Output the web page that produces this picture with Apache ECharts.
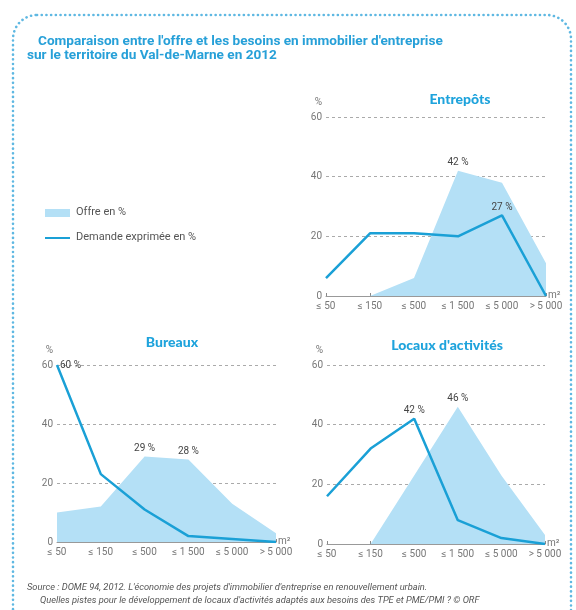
<!DOCTYPE html>
<html><head><meta charset="utf-8">
<script src="https://cdn.jsdelivr.net/npm/echarts@6/dist/echarts.min.js"></script>
<style>html,body{margin:0;padding:0;background:#fff}#c{width:576px;height:610px}</style>
</head><body><div id="c"></div>
<script>
const categories = ['≤ 50', '≤ 150', '≤ 500', '≤ 1 500', '≤ 5 000', '> 5 000'];
const yTicks = [0, 20, 40, 60];
const entrepotsOffre = [0, 0, 6, 42, 38, 11];
const entrepotsDemande = [6, 21, 21, 20, 27, 0];
const bureauxOffre = [10, 12, 29, 28, 13, 3];
const bureauxDemande = [60, 23, 11, 2, 1, 0];
const locauxOffre = [0, 0, 23, 46, 23, 3];
const locauxDemande = [16, 32, 42, 8, 2, 0];
// indices of labelled points
const entrepotsOffreLabels = [3];
const entrepotsDemandeLabels = [4];
const bureauxOffreLabels = [2, 3];
const bureauxDemandeLabels = [0];
const locauxOffreLabels = [3];
const locauxDemandeLabels = [2];

const BLUE = '#1aa0d6', AREA = '#b4e0f6', GREY = '#777';
const NARROW = '"Liberation Sans Narrow", "Roboto", sans-serif';

const grids = [
  {left: 326, top: 117, width: 220, height: 179},
  {left: 57, top: 365, width: 219, height: 177},
  {left: 327, top: 365, width: 218, height: 179}
];
function xAxis(i) {
  return {gridIndex: i, type: 'category', data: categories, boundaryGap: false,
    axisLine: {lineStyle: {color: '#999', width: 1}},
    axisTick: {inside: true, length: 3, lineStyle: {color: '#888'}},
    axisLabel: {color: GREY, fontSize: 10, fontFamily: NARROW, margin: 5, interval: 0},
    name: 'm²', nameLocation: 'end', nameGap: 2,
    nameTextStyle: {color: GREY, fontSize: 10, fontFamily: NARROW, verticalAlign: 'bottom', padding: [0, 0, -4, 0]}};
}
function yAxis(i) {
  return {gridIndex: i, type: 'value', min: yTicks[0], max: yTicks[yTicks.length - 1], interval: 20,
    axisLine: {show: false}, axisTick: {show: false},
    axisLabel: {color: GREY, fontSize: 10, fontFamily: NARROW, margin: 4},
    splitLine: {lineStyle: {color: '#aaa', type: [3, 3], width: 1}},
    name: '%', nameLocation: 'end', nameGap: 10,
    nameTextStyle: {color: GREY, fontSize: 10, fontFamily: NARROW, align: 'right', padding: [0, 4, 0, 0]}};
}
function withLabels(values, idx, pos) {
  return values.map((v, i) => idx.includes(i) ? {value: v, label: {show: true, position: pos || 'top',
    formatter: v + ' %', color: '#444', fontSize: 10, fontFamily: NARROW, distance: 3}} : v);
}
function area(i, vals, idx) {
  return {name: 'Offre en %', type: 'line', xAxisIndex: i, yAxisIndex: i, data: withLabels(vals, idx),
    symbol: 'circle', symbolSize: 0, showSymbol: true, lineStyle: {width: 0},
    areaStyle: {color: AREA, opacity: 1}, itemStyle: {color: AREA}, z: 2};
}
function line(i, vals, idx, pos) {
  return {name: 'Demande exprimée en %', type: 'line', xAxisIndex: i, yAxisIndex: i, data: withLabels(vals, idx, pos),
    symbol: 'circle', symbolSize: 0, showSymbol: true, lineStyle: {width: 2.5, color: BLUE}, itemStyle: {color: BLUE}, z: 3};
}
const titleFont = '"Lato", "Noto Sans", sans-serif';
const option = {
  animation: false,
  grid: grids,
  xAxis: [xAxis(0), xAxis(1), xAxis(2)],
  yAxis: [yAxis(0), yAxis(1), yAxis(2)],
  title: [
    {text: "Comparaison entre l'offre et les besoins en immobilier d'entreprise", left: 38, top: 35, padding: 0,
      textStyle: {color: '#27a0d8', fontSize: 13.6, fontWeight: 'bold', fontFamily: NARROW}},
    {text: 'sur le territoire du Val-de-Marne en 2012', left: 27, top: 49, padding: 0,
      textStyle: {color: '#27a0d8', fontSize: 13.6, fontWeight: 'bold', fontFamily: NARROW}},
    {text: 'Entrepôts', left: 455, top: 87, textAlign: 'center',
      textStyle: {color: '#1ea3dc', fontSize: 14, fontWeight: 900, fontFamily: titleFont}},
    {text: 'Bureaux', left: 167, top: 330, textAlign: 'center',
      textStyle: {color: '#1ea3dc', fontSize: 14, fontWeight: 900, fontFamily: titleFont}},
    {text: "Locaux d'activités", left: 442, top: 333, textAlign: 'center',
      textStyle: {color: '#1ea3dc', fontSize: 14, fontWeight: 900, fontFamily: titleFont}}
  ],
  series: [
    area(0, entrepotsOffre, entrepotsOffreLabels),
    line(0, entrepotsDemande, entrepotsDemandeLabels),
    area(1, bureauxOffre, bureauxOffreLabels),
    line(1, bureauxDemande, bureauxDemandeLabels, 'right'),
    area(2, locauxOffre, locauxOffreLabels),
    line(2, locauxDemande, locauxDemandeLabels)
  ],
  graphic: [
    {type: 'rect', shape: {x: 13, y: 15, width: 558, height: 620, r: 24}, silent: true,
      style: {fill: 'none', stroke: '#5fb8e2', lineWidth: 2.6, lineDash: [0.1, 4.6], lineCap: 'round'}},
    {type: 'rect', shape: {x: 45, y: 209, width: 25, height: 8}, style: {fill: AREA}},
    {type: 'text', left: 76, top: 207, style: {text: 'Offre en %', fill: '#555', font: '11px ' + NARROW}},
    {type: 'rect', shape: {x: 45, y: 237, width: 25, height: 2}, style: {fill: BLUE}},
    {type: 'text', left: 76, top: 232, style: {text: 'Demande exprimée en %', fill: '#555', font: '11px ' + NARROW}},
    {type: 'text', left: 27, top: 583, style: {text: "Source : DOME 94, 2012. L'économie des projets d'immobilier d'entreprise en renouvellement urbain.",
      fill: '#555', font: 'italic 9.3px ' + NARROW}},
    {type: 'text', left: 40, top: 596, style: {text: "Quelles pistes pour le développement de locaux d'activités adaptés aux besoins des TPE et PME/PMI ? © ORF",
      fill: '#555', font: 'italic 9.3px ' + NARROW}}
  ]
};
const chart = echarts.init(document.getElementById('c'), null, {renderer: 'canvas'});
chart.setOption(option);
</script></body></html>
